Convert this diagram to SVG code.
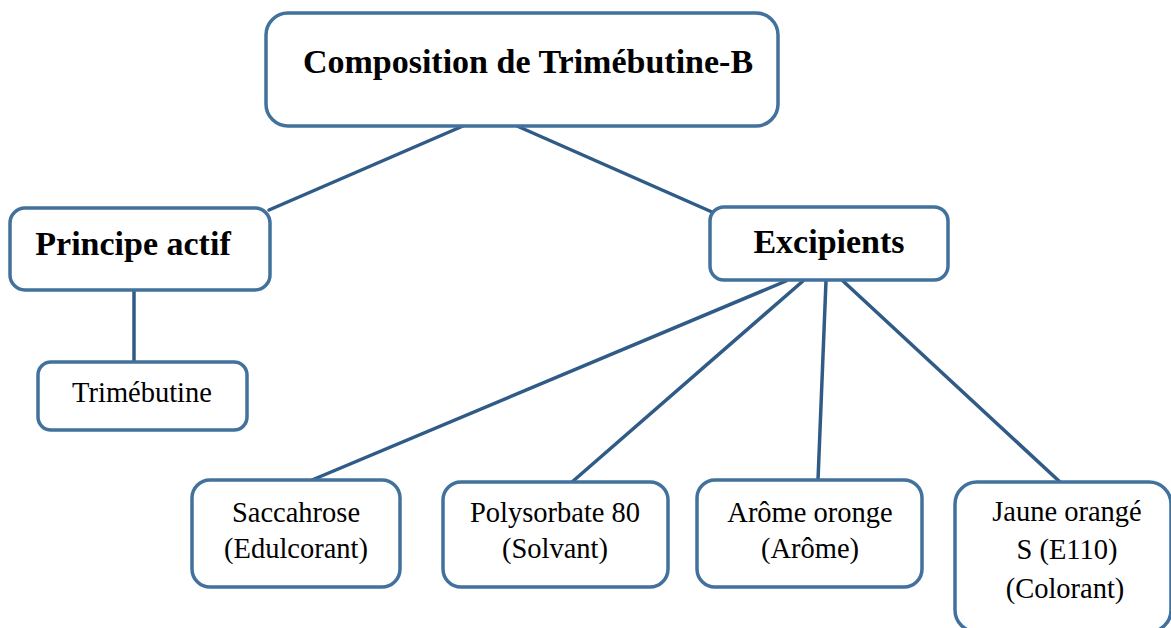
<svg xmlns="http://www.w3.org/2000/svg" width="1171" height="628" viewBox="0 0 1171 628">
<style>
.box{fill:#ffffff;stroke:#41719c;stroke-width:3.5}
.conn{stroke:#2f5b86;stroke-width:3.5;fill:none;stroke-linecap:round}
.t{font-family:"Liberation Serif","Times New Roman",serif;fill:#000;text-anchor:middle}
.b{font-weight:bold;font-size:34px}
.r{font-size:28.5px}
</style>
<rect width="1171" height="628" fill="#ffffff"/>
<g id="connectors">
<line class="conn" x1="463" y1="126" x2="269" y2="210"/>
<line class="conn" x1="517" y1="126" x2="712" y2="212"/>
<line class="conn" x1="134" y1="290" x2="134" y2="362"/>
<line class="conn" x1="786" y1="281" x2="312" y2="480"/>
<line class="conn" x1="803" y1="281" x2="572" y2="482"/>
<line class="conn" x1="826" y1="281" x2="818" y2="480"/>
<line class="conn" x1="843" y1="281" x2="1060" y2="482"/>
</g>
<g id="root">
<rect class="box" x="266" y="13" width="512" height="113" rx="22"/>
<text class="t b" x="528" y="73">Composition de Trimébutine-B</text>
</g>
<g id="principe">
<rect class="box" x="10" y="208" width="260" height="82" rx="15"/>
<text class="t b" x="133" y="255">Principe actif</text>
</g>
<g id="excipients">
<rect class="box" x="710" y="207" width="238" height="73" rx="14"/>
<text class="t b" x="829" y="253">Excipients</text>
</g>
<g id="trimebutine">
<rect class="box" x="38" y="362" width="209" height="68" rx="13"/>
<text class="t r" x="142" y="402">Trimébutine</text>
</g>
<g id="saccahrose">
<rect class="box" x="192" y="480" width="208" height="107" rx="18"/>
<text class="t r" x="296" y="522">Saccahrose</text>
<text class="t r" x="296" y="558">(Edulcorant)</text>
</g>
<g id="polysorbate">
<rect class="box" x="443" y="482" width="225" height="105" rx="18"/>
<text class="t r" x="555" y="522">Polysorbate 80</text>
<text class="t r" x="555" y="558">(Solvant)</text>
</g>
<g id="arome">
<rect class="box" x="697" y="480" width="225" height="107" rx="18"/>
<text class="t r" x="810" y="522">Arôme oronge</text>
<text class="t r" x="810" y="558">(Arôme)</text>
</g>
<g id="jaune">
<rect class="box" x="955" y="482" width="216" height="150" rx="22"/>
<text class="t r" x="1067" y="521">Jaune orangé</text>
<text class="t r" x="1067" y="559">S (E110)</text>
<text class="t r" x="1065" y="598">(Colorant)</text>
</g>
</svg>
